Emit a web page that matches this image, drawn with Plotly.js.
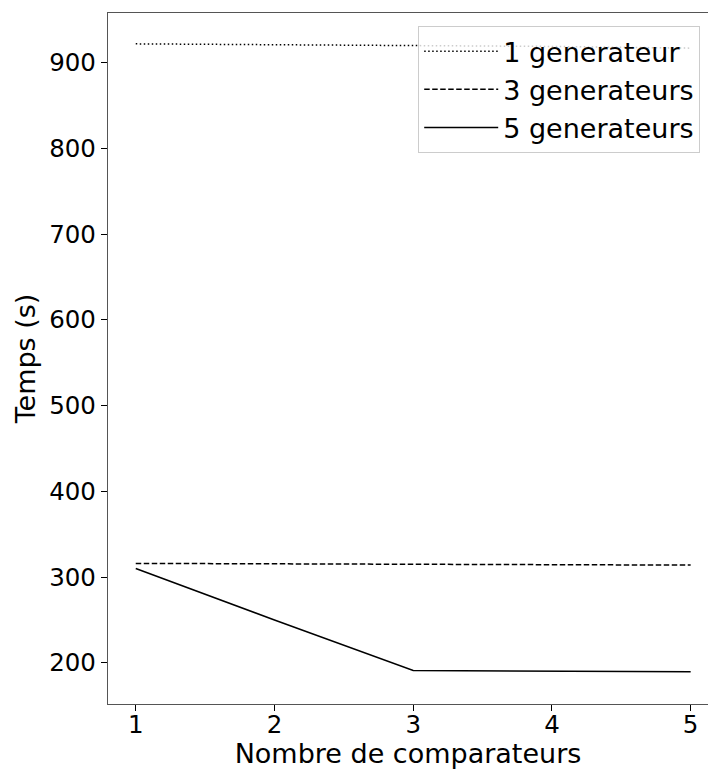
<!DOCTYPE html>
<html>
<head>
<meta charset="utf-8">
<script src="https://cdn.plot.ly/plotly-3.0.1.min.js"></script>
<style>html,body{margin:0;padding:0;overflow:hidden;background:#fff;}</style>
</head>
<body>
<div id="chart" style="width:708px;height:769px;"></div>
<script>
const comparateurs = [1, 2, 3, 4, 5];
const gen1 = [922, 921, 920, 919, 917];
const gen3 = [316, 315.5, 315, 314.5, 314];
const gen5 = [310, 250, 191, 190, 189.5];
const seriesNames = ["1 generateur", "3 generateurs", "5 generateurs"];
const xTitle = "Nombre de comparateurs";
const yTitle = "Temps (s)";

const tickFont = {family: "DejaVu Sans, sans-serif", size: 24.5, color: "#000"};
const font = {family: "DejaVu Sans, sans-serif", size: 27, color: "#000"};

const traces = [
  {x: comparateurs, y: gen1, name: seriesNames[0], mode: "lines", line: {color: "#000", width: 1.5, dash: "1.5px,2.5px"}},
  {x: comparateurs, y: gen3, name: seriesNames[1], mode: "lines", line: {color: "#000", width: 1.5, dash: "5.5px,2.5px"}},
  {x: comparateurs, y: gen5, name: seriesNames[2], mode: "lines", line: {color: "#000", width: 1.5}}
];

const layout = {
  width: 708, height: 769,
  margin: {l: 108, r: 0, t: 13, b: 65, pad: 0},
  paper_bgcolor: "#fff", plot_bgcolor: "#fff",
  font: font,
  showlegend: true,
  legend: {
    x: 0.987, y: 0.981, xanchor: "right", yanchor: "top",
    bgcolor: "rgba(255,255,255,0.8)", bordercolor: "#cccccc", borderwidth: 1,
    font: font, tracegroupgap: 0, itemwidth: 74
  },
  xaxis: {
    range: [0.8, 5.125],
    tickvals: comparateurs, ticktext: comparateurs.map(String),
    ticks: "outside", ticklen: 6, tickcolor: "#000", tickwidth: 1,
    ticklabelstandoff: -8,
    showgrid: false, zeroline: false,
    showline: true, linecolor: "#555", linewidth: 1.2, mirror: true,
    title: {text: xTitle, font: font, standoff: 4},
    tickfont: tickFont
  },
  yaxis: {
    range: [152, 958],
    tickvals: [200, 300, 400, 500, 600, 700, 800, 900],
    ticks: "outside", ticklen: 6, tickcolor: "#000", tickwidth: 1,
    showgrid: false, zeroline: false,
    showline: true, linecolor: "#555", linewidth: 1.2,
    title: {text: yTitle, font: font, standoff: 5},
    tickfont: tickFont
  }
};

Plotly.newPlot("chart", traces, layout, {displayModeBar: false, staticPlot: true});
</script>
</body>
</html>
